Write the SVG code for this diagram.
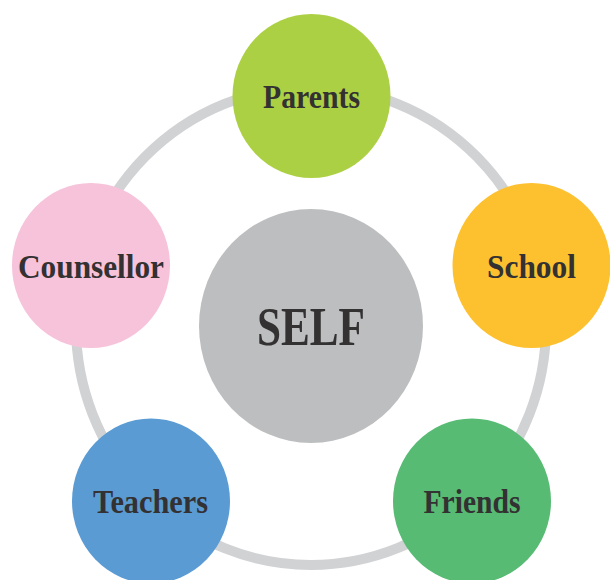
<svg xmlns="http://www.w3.org/2000/svg" width="610" height="580" viewBox="0 0 610 580">
<style>
.lbl{font-family:"Liberation Serif","Times New Roman",serif;font-weight:bold;fill:#333132;text-anchor:middle}
.sm{font-size:33px}
.ring{fill:none;stroke:#d1d2d4;stroke-width:10}
</style>
<rect width="610" height="580" fill="#ffffff"/>
<g id="connectors">
<ellipse class="ring" cx="311" cy="326" rx="235" ry="239"/>
</g>
<g id="self">
<ellipse cx="311" cy="326" rx="112" ry="117" fill="#bdbebf"/>
<text class="lbl" x="311" y="345" font-size="54" textLength="108" lengthAdjust="spacingAndGlyphs">SELF</text>
</g>
<g id="parents">
<ellipse cx="311.5" cy="96" rx="79" ry="82" fill="#acd044"/>
<text class="lbl sm" x="311.5" y="108" textLength="97" lengthAdjust="spacingAndGlyphs">Parents</text>
</g>
<g id="school">
<ellipse cx="531.5" cy="265.5" rx="79" ry="82.5" fill="#fdc12f"/>
<text class="lbl sm" x="531.5" y="278" textLength="89" lengthAdjust="spacingAndGlyphs">School</text>
</g>
<g id="friends">
<ellipse cx="472" cy="501" rx="79" ry="82.5" fill="#57bb74"/>
<text class="lbl sm" x="472" y="513" textLength="97" lengthAdjust="spacingAndGlyphs">Friends</text>
</g>
<g id="teachers">
<ellipse cx="151" cy="501" rx="79" ry="82.5" fill="#5a9bd4"/>
<text class="lbl sm" x="150.5" y="513" textLength="115" lengthAdjust="spacingAndGlyphs">Teachers</text>
</g>
<g id="counsellor">
<ellipse cx="91" cy="265.5" rx="79" ry="82.5" fill="#f7c3da"/>
<text class="lbl sm" x="91" y="278" textLength="146" lengthAdjust="spacingAndGlyphs">Counsellor</text>
</g>
</svg>
